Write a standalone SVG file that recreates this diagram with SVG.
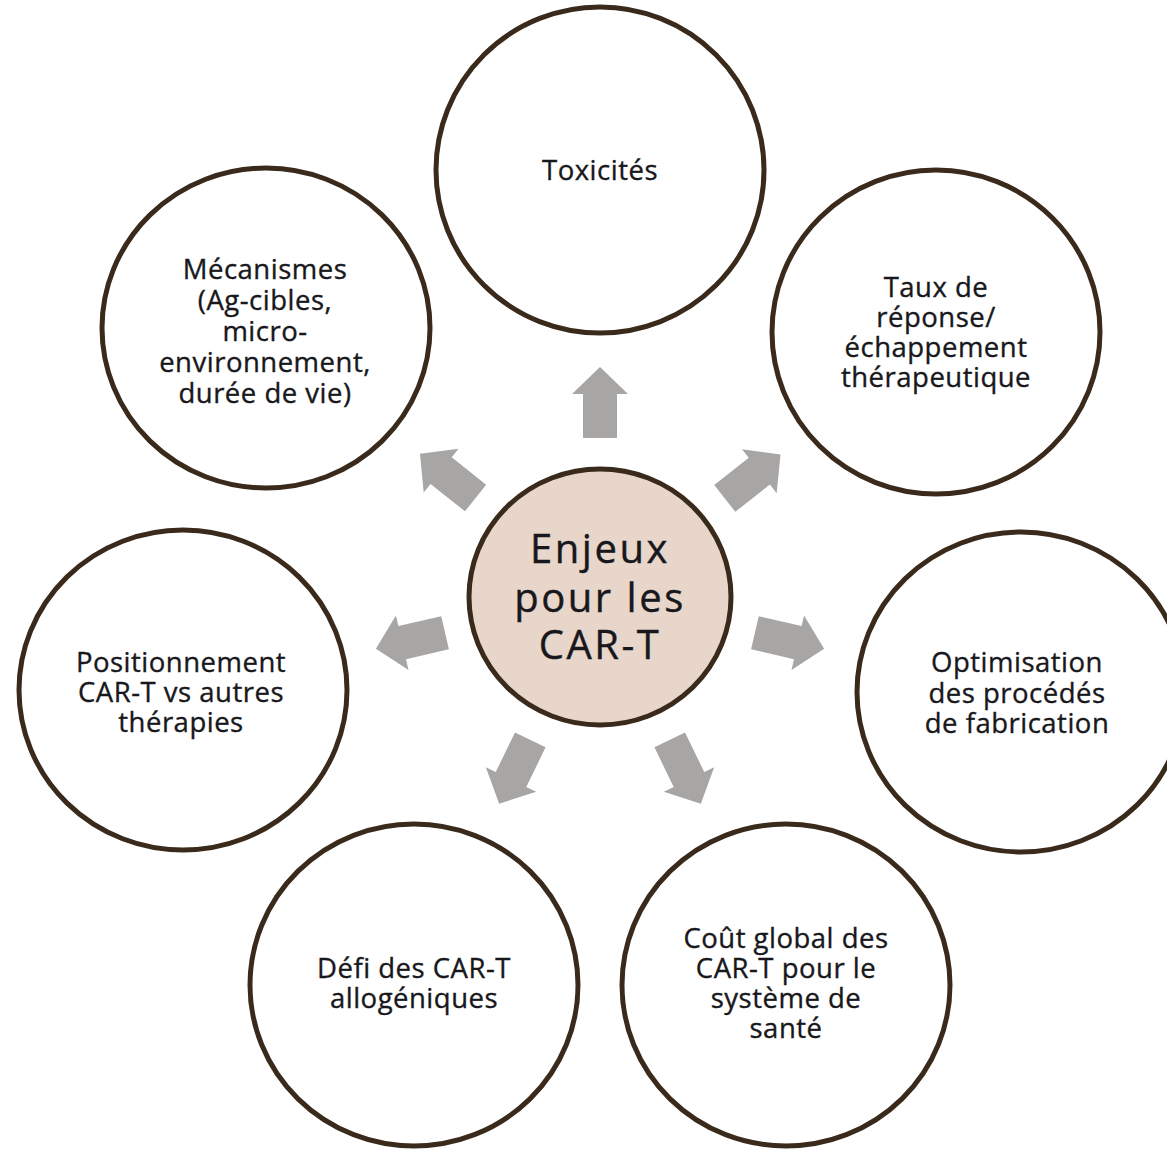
<svg xmlns="http://www.w3.org/2000/svg" width="1167" height="1152" viewBox="0 0 1167 1152">
  <style>
    .ring { fill: #ffffff; stroke: #3a2a1c; stroke-width: 5; }
    .hub { fill: #e8d6ca; stroke: #3a2a1c; stroke-width: 5; }
    .label { font-family: "Open Sans", "Liberation Sans", sans-serif; font-size: 27.5px; fill: #18181c; stroke: #18181c; stroke-width: 0.35; text-anchor: middle; letter-spacing: 0.5px; }
    .hub-label { font-family: "Open Sans", "Liberation Sans", sans-serif; font-size: 40px; fill: #18181c; stroke: #18181c; stroke-width: 0.4; text-anchor: middle; letter-spacing: 2.5px; }
    .arrow { fill: #a8a6a4; }
  </style>
  <defs>
    <!-- block arrow pointing up from the hub; rotated about the hub centre -->
    <path id="blockArrow" d="M600,367 L628,394 L617,394 L617,438 L583,438 L583,394 L572,394 Z"/>
  </defs>

  <rect width="1167" height="1152" fill="#ffffff"/>

  <g id="connectors" class="arrow">
    <use href="#blockArrow"/>
    <use href="#blockArrow" transform="rotate(51.7 600 597)"/>
    <use href="#blockArrow" transform="rotate(103 600 597)"/>
    <use href="#blockArrow" transform="rotate(154 600 597)"/>
    <use href="#blockArrow" transform="rotate(206 600 597)"/>
    <use href="#blockArrow" transform="rotate(257 600 597)"/>
    <use href="#blockArrow" transform="rotate(-51.5 600 597)"/>
  </g>

  <g id="node-toxicites">
    <ellipse class="ring" cx="600" cy="170" rx="164" ry="163"/>
    <text class="label" x="600" y="180">Toxicités</text>
  </g>

  <g id="node-mecanismes">
    <ellipse class="ring" cx="266" cy="328" rx="164" ry="160"/>
    <text class="label" x="265" y="279">Mécanismes</text>
    <text class="label" x="265" y="310">(Ag-cibles,</text>
    <text class="label" x="265" y="341">micro-</text>
    <text class="label" x="265" y="372">environnement,</text>
    <text class="label" x="265" y="403">durée de vie)</text>
  </g>

  <g id="node-taux">
    <ellipse class="ring" cx="936" cy="332" rx="164" ry="162"/>
    <text class="label" x="936" y="297">Taux de</text>
    <text class="label" x="936" y="327">réponse/</text>
    <text class="label" x="936" y="357">échappement</text>
    <text class="label" x="936" y="387">thérapeutique</text>
  </g>

  <g id="node-positionnement">
    <ellipse class="ring" cx="183" cy="690" rx="164" ry="160"/>
    <text class="label" x="181" y="672">Positionnement</text>
    <text class="label" x="181" y="702">CAR-T vs autres</text>
    <text class="label" x="181" y="732">thérapies</text>
  </g>

  <g id="node-optimisation">
    <ellipse class="ring" cx="1021" cy="692" rx="164" ry="160"/>
    <text class="label" x="1017" y="672">Optimisation</text>
    <text class="label" x="1017" y="703">des procédés</text>
    <text class="label" x="1017" y="733">de fabrication</text>
  </g>

  <g id="node-defi">
    <ellipse class="ring" cx="414" cy="985" rx="164" ry="161"/>
    <text class="label" x="414" y="978">Défi des CAR-T</text>
    <text class="label" x="414" y="1008">allogéniques</text>
  </g>

  <g id="node-cout">
    <ellipse class="ring" cx="786" cy="985" rx="164" ry="161"/>
    <text class="label" x="786" y="948">Coût global des</text>
    <text class="label" x="786" y="978">CAR-T pour le</text>
    <text class="label" x="786" y="1008">système de</text>
    <text class="label" x="786" y="1038">santé</text>
  </g>

  <g id="node-enjeux">
    <ellipse class="hub" cx="600" cy="597" rx="131" ry="128"/>
    <text class="hub-label" x="600" y="563">Enjeux</text>
    <text class="hub-label" x="600" y="612">pour les</text>
    <text class="hub-label" x="600" y="659">CAR-T</text>
  </g>
</svg>
